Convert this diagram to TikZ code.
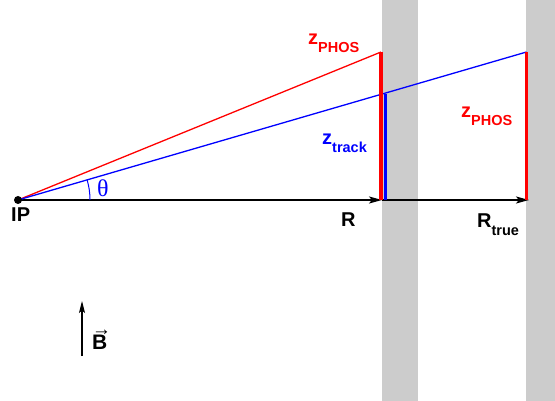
\documentclass[tikz,border=0pt]{standalone}
\usepackage{fontspec}
\usetikzlibrary{arrows.meta}
\newfontfamily\hvfont{Liberation Sans}
\newfontfamily\tmfont{Liberation Serif}
\newcommand\lowidx[1]{\raisebox{-7.5pt}{\fontsize{14.5}{15}\selectfont #1}}
\definecolor{layergray}{RGB}{204,204,204}
\tikzset{
  layer/.style={fill=layergray,draw=none},
  radial/.style={line width=1.8pt,draw=black,-{Stealth[length=13pt,width=7pt,inset=3pt]}},
  phosray/.style={line width=1.3pt,draw=red},
  trackray/.style={line width=1.3pt,draw=blue},
  phosbar/.style={line width=3.3pt,draw=red},
  trackbar/.style={line width=3pt,draw=blue},
  ipdot/.style={circle,fill=black,inner sep=0pt,minimum size=8pt},
  lbl/.style={font=\hvfont\bfseries\fontsize{20}{22}\selectfont,inner sep=0pt,anchor=base west}
}
\begin{document}
\begin{tikzpicture}[x=1pt,y=-1pt]
  \useasboundingbox (0,0) rectangle (555,401);
  % detector layers
  \fill[layer] (382,0) rectangle (418,401);
  \fill[layer] (526,0) rectangle (555,401);
  \coordinate (IP) at (18,200); \coordinate (R) at (382,200); \coordinate (Rt) at (529,200);
  \coordinate (P1) at (381,52); \coordinate (P1b) at (381,200);
  \coordinate (T1) at (385.5,94); \coordinate (T1b) at (385.5,200);
  \coordinate (P2) at (526.5,52); \coordinate (P2b) at (526.5,200);
  \draw[radial] (IP)--(R);
  \draw[radial] (R)--(Rt);
  \draw[phosray] (IP)--(P1);
  \draw[trackray] (IP)--(P2);
  \draw[phosbar] (P1)--(P1b);
  \draw[trackbar] (T1)--(T1b);
  \draw[phosbar] (P2)--(P2b);
  \draw[blue,line width=1pt] (90,200) arc[start angle=0, end angle=-16.2, radius=72];
  \node[ipdot] (ipd) at (IP){};
  \node[lbl] (iplbl) at (11,222) {IP};
  \node[lbl] (rlbl) at (341,227) {R};
  \node[lbl] (rtlbl) at (477,228) {R\lowidx{true}};
  \node[lbl,red] (z1lbl) at (308,45) {z\lowidx{PHOS}};
  \node[lbl,blue] (ztlbl) at (322,145) {z\lowidx{track}};
  \node[lbl,red] (z2lbl) at (461,118) {z\lowidx{PHOS}};
  \node[blue,font=\tmfont\fontsize{24}{24}\selectfont,inner sep=0pt,anchor=base west] (thlbl) at (97,197) {θ};
  % magnetic field
  \coordinate (B0) at (82,356); \coordinate (B1) at (82,301);
  \draw[line width=1.1pt,-{Stealth[length=12pt,width=6pt,inset=2.5pt]}] (B0)--(B1);
  \node[lbl,font=\hvfont\bfseries\fontsize{21}{22}\selectfont] (blbl) at (92,349)
    {\rlap{\raisebox{14pt}{\fontsize{19}{19}\selectfont →}}B};
\end{tikzpicture}
\end{document}
